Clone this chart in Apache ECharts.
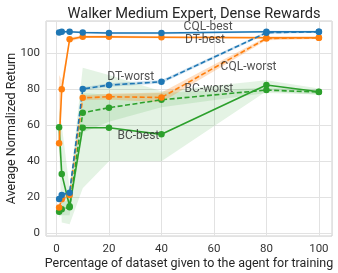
<!DOCTYPE html>
<html>
<head>
<meta charset="utf-8">
<script src="https://cdn.jsdelivr.net/npm/echarts@6/dist/echarts.min.js"></script>
<style>
html,body{margin:0;padding:0;background:#fff;}
#c{width:338px;height:273px;}
</style>
</head>
<body>
<div id="c"></div>
<script>
// ---- data ----
const pct = [1, 2, 5, 10, 20, 40, 80, 100];

const cqlBest = [111.6, 112, 112, 111.6, 111.3, 111.3, 112, 112];
const cqlBestLow = [111.0, 111.4, 111.4, 111.0, 110.7, 110.7, 111.4, 111.4];
const cqlBestHigh = [112.2, 112.6, 112.6, 112.2, 111.9, 111.9, 112.6, 112.6];

const cqlWorst = [19, 21.3, 22.6, 80.2, 82.4, 84.2, 111.5, 112];
const cqlWorstLow = [18, 20.3, 21.6, 79.2, 81.4, 83.2, 110.8, 111.4];
const cqlWorstHigh = [20, 22.3, 23.6, 81.2, 83.4, 85.2, 112.2, 112.6];

const dtBest = [50, 80, 107.8, 109.2, 109.2, 109, 108.7, 108.7];
const dtBestLow = [40, 76, 106.5, 108.5, 108.5, 108.3, 108, 108];
const dtBestHigh = [88, 85, 109, 110, 110, 109.7, 109.4, 109.4];

const dtWorst = [14.4, 18.9, 21.3, 75.3, 75.9, 75.5, 108.3, 108.7];
const dtWorstLow = [13, 17.5, 20, 74, 74.3, 72.8, 107.3, 108];
const dtWorstHigh = [16, 20.5, 22.8, 76.6, 77.5, 78.2, 109.2, 109.4];

const bcBest = [59, 33, 15, 58.7, 58.7, 55, 82.4, 78.7];
const bcBestLow = [47, 6, 5, 25, 40, 40, 79, 77];
const bcBestHigh = [70, 60, 25, 92, 88, 79, 85, 80.5];

const bcWorst = [12, 13.3, 14.5, 67, 69.8, 74.2, 79.6, 78.5];
const bcWorstLow = [9, 10, 10, 56, 62, 70, 78, 77.2];
const bcWorstHigh = [15, 17, 19, 78, 77, 78, 81, 79.8];

const annotations = [
  ['CQL-best', 57.8, 114.8],
  ['DT-best', 56.6, 107.4],
  ['CQL-worst', 73.2, 92.2],
  ['BC-worst', 58.1, 80],
  ['DT-worst', 28.3, 86.7],
  ['BC-best', 31.2, 54]
];

const title = 'Walker Medium Expert, Dense Rewards';
const xName = 'Percentage of dataset given to the agent for training';
const yName = 'Average Normalized Return';

// ---- helpers ----
const BLUE = '#1f77b4', ORANGE = '#ff7f0e', GREEN = '#2ca02c';
function pairs(ys) { return pct.map((x, i) => [x, ys[i]]); }

function band(low, high, color, opacity) {
  return {
    type: 'custom',
    silent: true,
    z: 1,
    data: [0],
    renderItem: function (params, api) {
      const pts = [];
      for (let i = 0; i < pct.length; i++) pts.push(api.coord([pct[i], high[i]]));
      for (let i = pct.length - 1; i >= 0; i--) pts.push(api.coord([pct[i], low[i]]));
      return {
        type: 'polygon',
        shape: { points: pts },
        style: { fill: color, opacity: opacity }
      };
    }
  };
}

function line(ys, color, dashed) {
  return {
    type: 'line',
    data: pairs(ys),
    z: 3,
    symbol: 'circle',
    symbolSize: 6.5,
    itemStyle: { color: color },
    lineStyle: { color: color, width: 1.6, type: dashed ? [5, 2.5] : 'solid' },
    emphasis: { disabled: true },
    animation: false
  };
}

const chart = echarts.init(document.getElementById('c'), null, { renderer: 'canvas' });

const option = {
  animation: false,
  backgroundColor: '#fff',
  title: {
    text: title,
    left: 189, top: 2, textAlign: 'center',
    textStyle: { fontFamily: 'Roboto', fontSize: 14.6, fontWeight: 'normal', color: '#262626' }
  },
  grid: {
    left: 46, right: 6, top: 21, bottom: 37,
    containLabel: false, outerBoundsMode: 'none',
    show: true, borderColor: '#cfcfcf', borderWidth: 1, backgroundColor: 'transparent'
  },
  xAxis: {
    type: 'value', min: -4, max: 105, splitNumber: 5,
    name: xName, nameLocation: 'middle', nameGap: 21, nameMoveOverlap: false,
    nameTextStyle: { fontFamily: 'Roboto', fontSize: 12.5, color: '#262626' },
    axisLine: { show: false }, axisTick: { show: false },
    axisLabel: { showMinLabel: false, showMaxLabel: false, fontFamily: 'Roboto', fontSize: 11.5, color: '#333', margin: 7 },
    splitLine: { show: true, lineStyle: { color: '#e2e2e2', width: 1 } }
  },
  yAxis: {
    type: 'value', min: -1.5, max: 118, splitNumber: 6,
    name: yName, nameLocation: 'middle', nameGap: 28, nameMoveOverlap: false,
    nameTextStyle: { fontFamily: 'Roboto', fontSize: 12.5, color: '#262626' },
    axisLine: { show: false }, axisTick: { show: false },
    axisLabel: { showMinLabel: false, showMaxLabel: false, fontFamily: 'Roboto', fontSize: 11.5, color: '#333', margin: 6 },
    splitLine: { show: true, lineStyle: { color: '#e2e2e2', width: 1 } }
  },
  series: [
    band(bcBestLow, bcBestHigh, GREEN, 0.13),
    band(bcWorstLow, bcWorstHigh, GREEN, 0.13),
    band(dtBestLow, dtBestHigh, ORANGE, 0.2),
    band(dtWorstLow, dtWorstHigh, ORANGE, 0.25),
    band(cqlBestLow, cqlBestHigh, BLUE, 0.2),
    band(cqlWorstLow, cqlWorstHigh, BLUE, 0.2),
    line(bcBest, GREEN, false),
    line(bcWorst, GREEN, true),
    line(dtBest, ORANGE, false),
    line(dtWorst, ORANGE, true),
    line(cqlBest, BLUE, false),
    line(cqlWorst, BLUE, true),
    {
      type: 'scatter',
      z: 5,
      symbolSize: 0,
      silent: true,
      data: annotations.map(a => [a[1], a[2], a[0]]),
      label: {
        show: true, position: 'inside',
        formatter: p => p.value[2],
        fontFamily: 'Roboto', fontSize: 12, color: '#262626'
      }
    }
  ]
};
chart.setOption(option);
</script>
</body>
</html>
